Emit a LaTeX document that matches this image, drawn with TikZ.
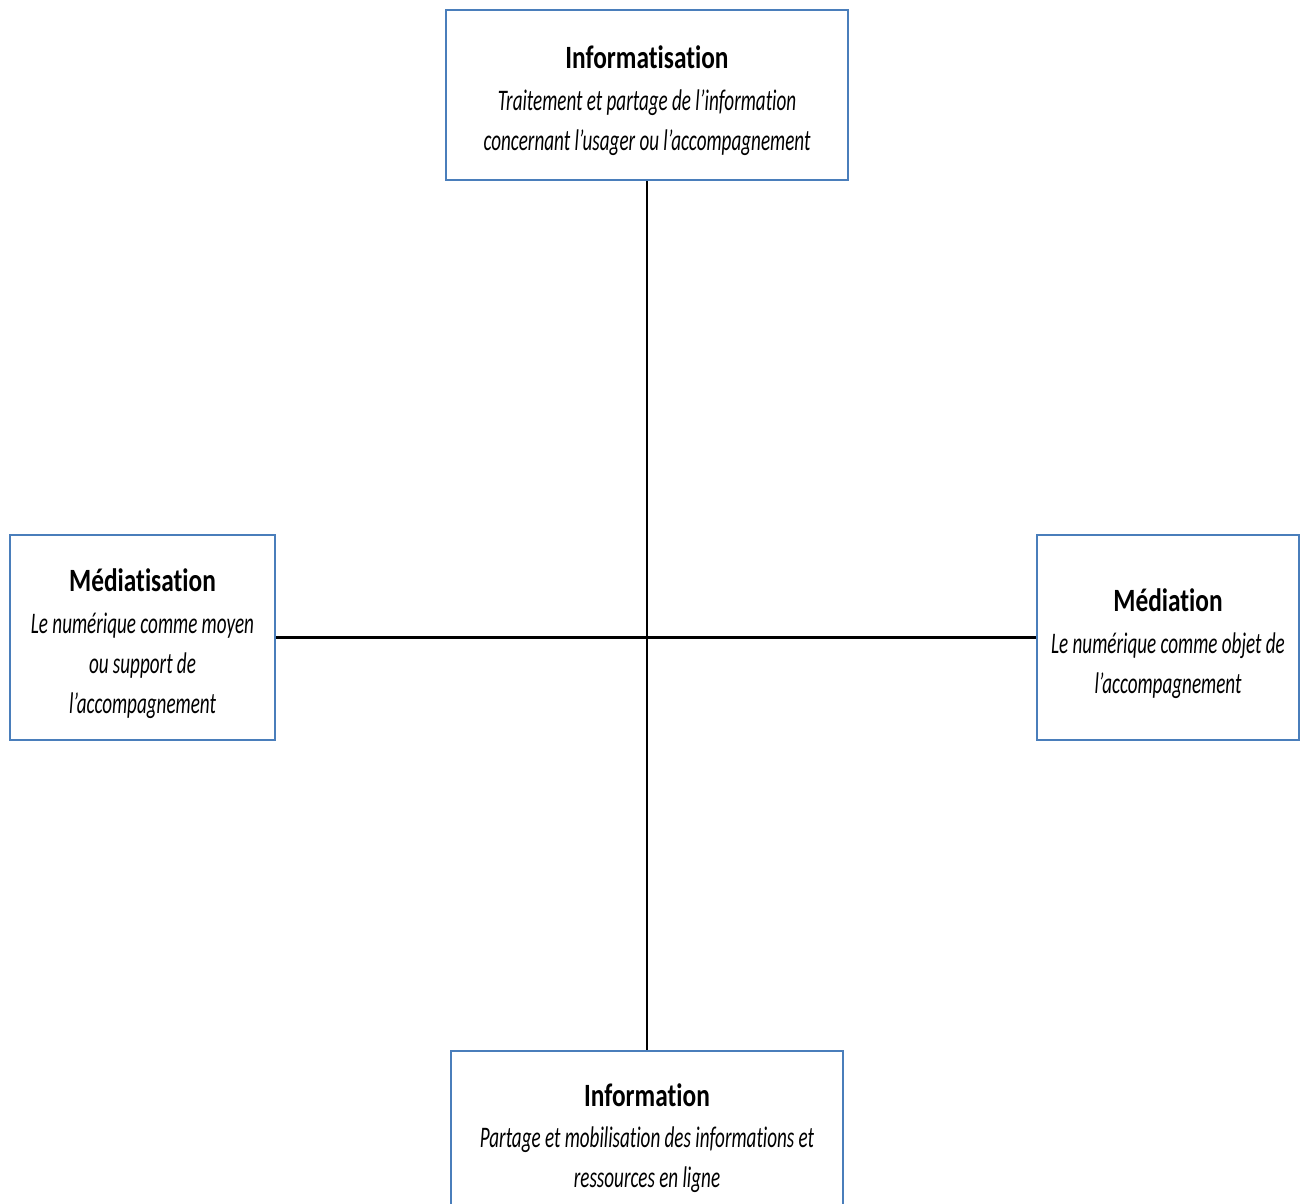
\documentclass[tikz,border=0pt]{standalone}
\usepackage{fontspec}
\setmainfont{Carlito}[FakeStretch=0.78,Ligatures=NoCommon,ItalicFeatures={FakeStretch=0.64}]
\usetikzlibrary{positioning}
\definecolor{boxblue}{RGB}{74,126,187}
\newcommand{\quadtitle}[1]{{\upshape\bfseries\fontsize{18.5}{22.7}\selectfont #1}\\[1.1pt]}
\tikzset{quad node/.style={rectangle,draw=boxblue,line width=1.6pt,fill=white,inner sep=0pt},
         quad text/.style={align=center,inner sep=0pt,font=\fontsize{17}{22.7}\selectfont\itshape},}

\begin{document}
\begin{tikzpicture}[x=0.02cm,y=-0.02cm]
      \useasboundingbox (0,0) rectangle (1306,1204);
      \clip (0,0) rectangle (1306,1204);

      \node[quad node,minimum width=8.04cm,minimum height=3.4cm] (1) at (647,95) {};
      \node[quad node,minimum width=5.3cm,minimum height=4.1cm] (2) at (142.5,637.5) {};
      \node[quad node,minimum width=5.24cm,minimum height=4.1cm] (3) at (1168,637.5) {};
      \node[quad node,minimum width=7.84cm,minimum height=3.4cm] (4) at (647,1136) {};

      \node[quad text] (1t) at ([yshift=-0.12cm]1.center)
        {\quadtitle{Informatisation}Traitement et partage de l’information\\ concernant l’usager ou l’accompagnement};
      \node[quad text] (2t) at ([yshift=-0.12cm]2.center)
        {\quadtitle{Médiatisation}Le numérique comme moyen\\ ou support de\\ l’accompagnement};
      \node[quad text] (3t) at ([yshift=-0.12cm]3.center)
        {\quadtitle{Médiation}Le numérique comme objet de\\ l’accompagnement};
      \node[quad text] (4t) at ([yshift=-0.04cm]4.center)
        {\quadtitle{Information}Partage et mobilisation des informations et\\ ressources en ligne};

      \path[draw,line width=1.3pt]
        (1) edge node {} (4)
        (2) edge node {} (3);

    \end{tikzpicture}
\end{document}
